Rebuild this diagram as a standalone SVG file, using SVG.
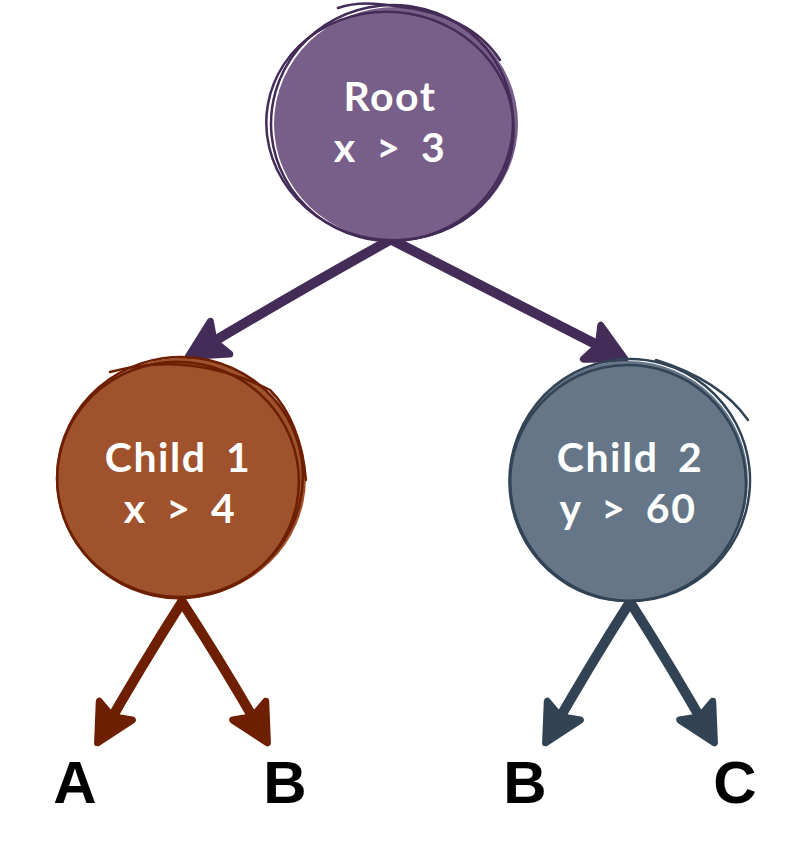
<svg xmlns="http://www.w3.org/2000/svg" width="810" height="843" viewBox="0 0 810 843">
<style>
.lbl{font-family:"Liberation Sans",Arial,sans-serif;font-weight:bold;font-size:60px;fill:#000;text-anchor:middle}
.nt{font-family:"Lato","Liberation Sans",sans-serif;font-weight:bold;font-size:41px;fill:#fff;text-anchor:middle;letter-spacing:1.5px;word-spacing:8px}
.sk{fill:none;stroke-width:2.5;stroke-linecap:round}
.ar{fill:none;stroke-width:10;stroke-linecap:round}
</style>
<defs>
<marker id="mP" markerUnits="userSpaceOnUse" markerWidth="54" markerHeight="54" viewBox="-46 -27 54 54" refX="-9" refY="0" orient="auto">
<path d="M0,0 L-37,-19 L-30,0 L-37,19 Z" fill="#432c57" stroke="#432c57" stroke-width="7" stroke-linejoin="round"/>
</marker>
<marker id="mB" markerUnits="userSpaceOnUse" markerWidth="54" markerHeight="54" viewBox="-46 -27 54 54" refX="-9" refY="0" orient="auto">
<path d="M0,0 L-37,-19 L-30,0 L-37,19 Z" fill="#6d1f00" stroke="#6d1f00" stroke-width="7" stroke-linejoin="round"/>
</marker>
<marker id="mS" markerUnits="userSpaceOnUse" markerWidth="54" markerHeight="54" viewBox="-46 -27 54 54" refX="-9" refY="0" orient="auto">
<path d="M0,0 L-37,-19 L-30,0 L-37,19 Z" fill="#314354" stroke="#314354" stroke-width="7" stroke-linejoin="round"/>
</marker>
</defs>
<rect width="810" height="843" fill="#fff"/>

<g id="connectors">
<path class="ar" stroke="#432c57" d="M390,240 Q300,290 196,352" marker-end="url(#mP)"/>
<path class="ar" stroke="#432c57" d="M392,240 Q500,295 617,355" marker-end="url(#mP)"/>
<path class="ar" stroke="#6d1f00" d="M182,602 Q140,668 102,735" marker-end="url(#mB)"/>
<path class="ar" stroke="#6d1f00" d="M182,602 Q225,668 263,735" marker-end="url(#mB)"/>
<path class="ar" stroke="#314354" d="M630,602 Q588,668 550,735" marker-end="url(#mS)"/>
<path class="ar" stroke="#314354" d="M630,602 Q672,668 710,735" marker-end="url(#mS)"/>
</g>

<g id="root">
<ellipse cx="396" cy="124" rx="122" ry="117" fill="#785f89"/>
<ellipse class="sk" stroke="#432c57" cx="392" cy="123" rx="121" ry="118" transform="rotate(-6 392 123)"/>
<ellipse class="sk" stroke="#432c57" cx="390" cy="126" rx="124" ry="114" transform="rotate(10 390 126)"/>
<path class="sk" stroke="#432c57" d="M338,8 Q360,0 395,6 Q470,14 500,60"/>
<text class="nt" x="390" y="111">Root</text>
<text class="nt" x="390" y="162">x &gt; 3</text>
</g>

<g id="child1">
<ellipse cx="182" cy="478" rx="124" ry="120" fill="#a0522d"/>
<ellipse class="sk" stroke="#6d1f00" cx="180" cy="477" rx="123" ry="120" transform="rotate(-8 180 477)"/>
<ellipse class="sk" stroke="#6d1f00" cx="178" cy="480" rx="121" ry="118" transform="rotate(12 178 480)"/>
<path class="sk" stroke="#6d1f00" d="M110,372 Q190,350 270,390 Q300,420 306,480"/>
<text class="nt" x="178" y="472">Child 1</text>
<text class="nt" x="180" y="523">x &gt; 4</text>
</g>

<g id="child2">
<ellipse cx="628" cy="481" rx="120" ry="120" fill="#647687"/>
<ellipse class="sk" stroke="#314354" cx="630" cy="480" rx="120" ry="121" transform="rotate(-6 630 480)"/>
<ellipse class="sk" stroke="#314354" cx="628" cy="483" rx="118" ry="118" transform="rotate(9 628 483)"/>
<path class="sk" stroke="#314354" d="M656,360 Q720,380 748,420"/>
<text class="nt" x="630" y="472">Child 2</text>
<text class="nt" x="628" y="523">y &gt; 60</text>
</g>

<g id="labels">
<text class="lbl" x="75" y="803">A</text>
<text class="lbl" x="285" y="803">B</text>
<text class="lbl" x="525" y="803">B</text>
<text class="lbl" x="735" y="803">C</text>
</g>
</svg>
